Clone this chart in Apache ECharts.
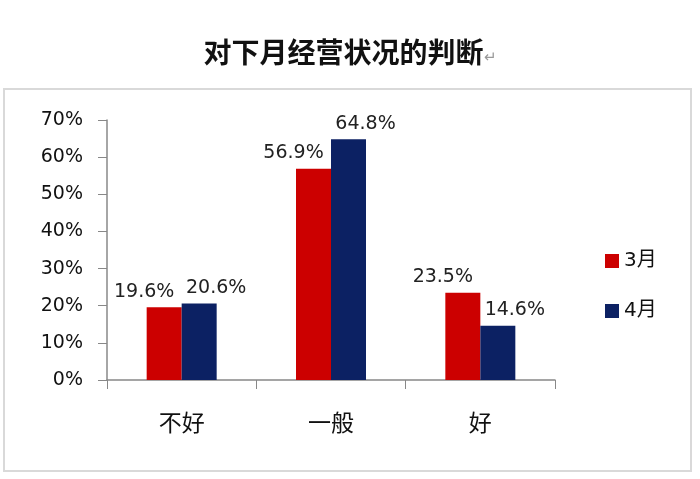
<!DOCTYPE html>
<html>
<head>
<meta charset="utf-8">
<script src="https://cdn.jsdelivr.net/npm/echarts@6/dist/echarts.min.js"></script>
<style>
html,body{margin:0;padding:0;background:#fff;}
#main{width:700px;height:479px;}
</style>
</head>
<body>
<div id="main"></div>
<script>
var categories = ['不好', '一般', '好'];
var seriesNames = ['3月', '4月'];
var march = [0.196, 0.569, 0.235];
var april = [0.206, 0.648, 0.146];
var yTicks = [0, 0.1, 0.2, 0.3, 0.4, 0.5, 0.6, 0.7];

var chart = echarts.init(document.getElementById('main'));
var cjk = '"Noto Sans CJK SC", "Noto Sans", sans-serif';
var num = '"DejaVu Sans", "Noto Sans CJK SC", sans-serif';
function pct(v){ return (v*100).toFixed(1) + '%'; }
chart.setOption({
  backgroundColor: '#fff',
  animation: false,
  title: {
    text: '对下月经营状况的判断{r|↵}',
    left: 'center',
    top: 33,
    textStyle: {
      fontFamily: cjk, fontSize: 28, fontWeight: 'bold', color: '#111',
      rich: { r: { fontSize: 15, color: '#999', fontWeight: 'normal', padding: [8,0,0,0] } }
    }
  },
  graphic: [{
    type: 'rect', shape: { x: 4, y: 89, width: 687, height: 382 },
    style: { fill: 'none', stroke: '#d9d9d9', lineWidth: 2 }, silent: true, z: -1
  }],
  legend: {
    orient: 'vertical', left: 600, top: 246, itemWidth: 14, itemHeight: 14, itemGap: 30,
    icon: 'rect',
    textStyle: { fontFamily: num, fontSize: 20, color: '#111' },
    data: seriesNames
  },
  grid: { left: 107, right: 145, top: 120, bottom: 99 },
  xAxis: {
    type: 'category', data: categories,
    axisLine: { lineStyle: { color: '#888', width: 1.5 } },
    axisTick: { show: true, length: 9, lineStyle: { color: '#888' } },
    axisLabel: { fontFamily: cjk, fontSize: 23, color: '#111', margin: 31 }
  },
  yAxis: {
    type: 'value', min: 0, max: 0.7, interval: 0.1,
    axisLine: { show: true, lineStyle: { color: '#888', width: 1.5 } },
    axisTick: { show: true, length: 9, lineStyle: { color: '#888' } },
    splitLine: { show: false },
    axisLabel: { fontFamily: num, fontSize: 19, color: '#111', margin: 24,
      formatter: function(v){ return Math.round(v*100) + '%'; } }
  },
  series: [
    { name: seriesNames[0], type: 'bar', data: march, barWidth: 35, barGap: '0%',
      itemStyle: { color: '#CC0000' },
      label: { show: true, position: 'top', distance: 6, offset: [-20, 0],
        fontFamily: num, fontSize: 19, color: '#222',
        formatter: function(p){ return pct(p.value); } } },
    { name: seriesNames[1], type: 'bar', data: april, barWidth: 35,
      itemStyle: { color: '#0C2163' },
      label: { show: true, position: 'top', distance: 6, offset: [17, 0],
        fontFamily: num, fontSize: 19, color: '#222',
        formatter: function(p){ return pct(p.value); } } }
  ]
});
</script>
</body>
</html>
